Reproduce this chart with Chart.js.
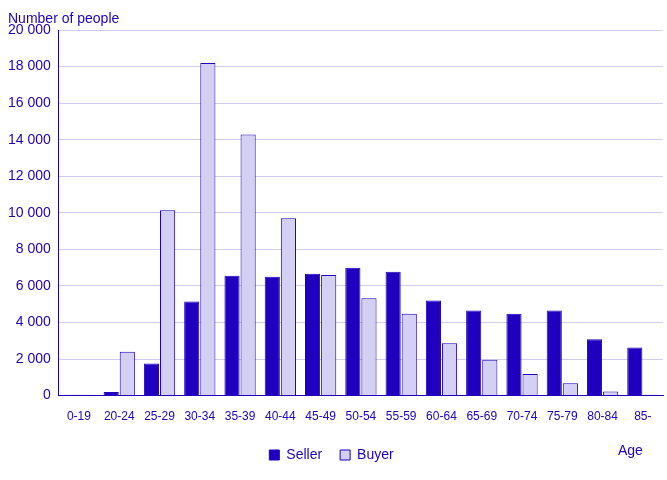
<!DOCTYPE html>
<html><head><meta charset="utf-8">
<script src="https://cdn.jsdelivr.net/npm/chart.js@4"></script>
<style>html,body{margin:0;padding:0;background:#fff}</style>
</head><body><canvas id="c" width="667" height="480" style="width:667px;height:480px;display:block"></canvas>
<script>
const categories=["0-19","20-24","25-29","30-34","35-39","40-44","45-49","50-54","55-59","60-64","65-69","70-74","75-79","80-84","85-"];
const seller=[50,200,1750,5150,6550,6500,6670,7000,6780,5200,4650,4480,4650,3080,2630];
const buyer=[50,2400,10140,18200,14280,9700,6600,5320,4480,2860,1960,1180,670,220,50];
const yTicks=[0,2000,4000,6000,8000,10000,12000,14000,16000,18000,20000];
const txt='#1e00be';
const extra={id:'extra',afterDraw(ch){const c=ch.ctx;c.save();c.fillStyle=txt;c.font='14px "Liberation Sans", Arial';c.textBaseline='alphabetic';c.textAlign='left';c.fillText('Number of people',8,23);c.fillText('Age',618,455);c.restore();}};
new Chart(document.getElementById('c'),{type:'bar',
data:{labels:categories,datasets:[
{label:'Seller',data:seller,backgroundColor:'#1e00be',borderColor:'#1e00be',borderWidth:1},
{label:'Buyer',data:buyer,backgroundColor:'#d3d0f3',borderColor:'#1e00be',borderWidth:1}]},
options:{responsive:false,animation:false,devicePixelRatio:1,
layout:{padding:{top:30,right:4,left:0,bottom:8}},
categoryPercentage:0.8,barPercentage:0.94,
plugins:{legend:{position:'bottom',labels:{color:txt,font:{size:14,family:'"Liberation Sans", Arial'},boxWidth:10,boxHeight:10,padding:18}},tooltip:{enabled:false}},
scales:{x:{grid:{display:false},border:{color:'#1e00be'},ticks:{color:txt,autoSkip:false,font:{size:12,family:'"Liberation Sans", Arial'},maxRotation:0,padding:6}},
y:{min:0,max:20000,afterBuildTicks(s){s.ticks=yTicks.map(v=>({value:v}));},
grid:{color:'#d0cdee',drawTicks:false},border:{display:true,color:'#1e00be'},
ticks:{color:txt,padding:8,font:{size:14,family:'"Liberation Sans", Arial'},callback:v=>v.toLocaleString('en-US').replace(/,/g,' ')}}}},
plugins:[extra]});
</script></body></html>
